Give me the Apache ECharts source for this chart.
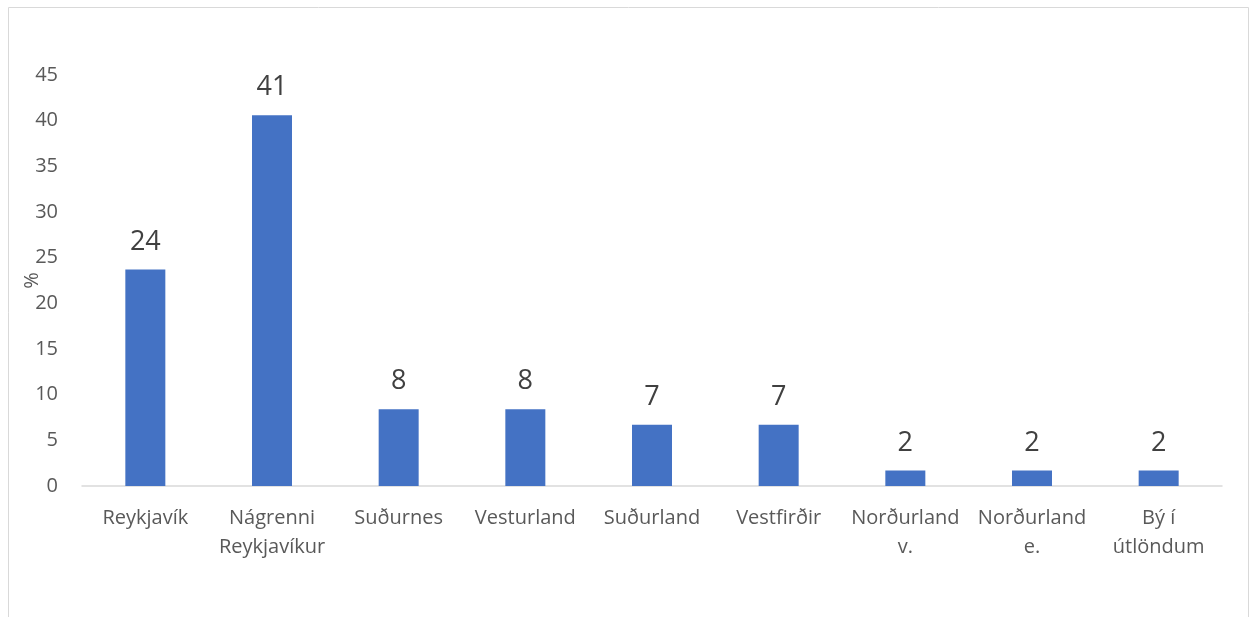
<!DOCTYPE html>
<html><head><meta charset="utf-8">
<script src="https://cdn.jsdelivr.net/npm/echarts@6/dist/echarts.min.js"></script>
<style>html,body{margin:0;padding:0;background:#fff}#c{width:1252px;height:617px}</style>
</head><body><div id="c"></div>
<script>
const categories = ['Reykjavík', 'Nágrenni\nReykjavíkur', 'Suðurnes', 'Vesturland', 'Suðurland', 'Vestfirðir', 'Norðurland\nv.', 'Norðurland\ne.', 'Bý í\nútlöndum'];
const values = [23.7, 40.6, 8.4, 8.4, 6.7, 6.7, 1.7, 1.7, 1.7];
const yTicks = [0, 5, 10, 15, 20, 25, 30, 35, 40, 45];
const yName = '%';

const font = 'Open Sans';
const chart = echarts.init(document.getElementById('c'), null, {renderer: 'canvas'});
chart.setOption({
  animation: false,
  graphic: [{type: 'rect', shape: {x: 8.5, y: 7.5, width: 1240, height: 640}, style: {fill: 'none', stroke: '#d9d9d9', lineWidth: 1}, silent: true}],
  grid: {left: 82, right: 30, top: 75, bottom: 131, containLabel: false, outerBoundsMode: 'none'},
  xAxis: {
    type: 'category', data: categories,
    axisLine: {lineStyle: {color: '#d9d9d9', width: 1.5}},
    axisTick: {show: false},
    axisLabel: {color: '#595959', fontFamily: font, fontSize: 20, lineHeight: 29, margin: 18, interval: 0}
  },
  yAxis: {
    type: 'value', min: yTicks[0], max: yTicks[yTicks.length - 1], interval: 5,
    name: yName, nameLocation: 'middle', nameGap: 40, nameRotate: 90, nameMoveOverlap: false,
    nameTextStyle: {color: '#595959', fontFamily: font, fontSize: 20},
    splitLine: {show: false}, axisLine: {show: false}, axisTick: {show: false},
    axisLabel: {color: '#595959', fontFamily: font, fontSize: 20, margin: 24}
  },
  series: [{
    type: 'bar', data: values, barWidth: 40,
    itemStyle: {color: '#4472C4'},
    label: {show: true, position: 'top', distance: 14, color: '#404040', fontFamily: font, fontSize: 27,
      formatter: p => Math.round(p.value)}
  }]
});
</script></body></html>
